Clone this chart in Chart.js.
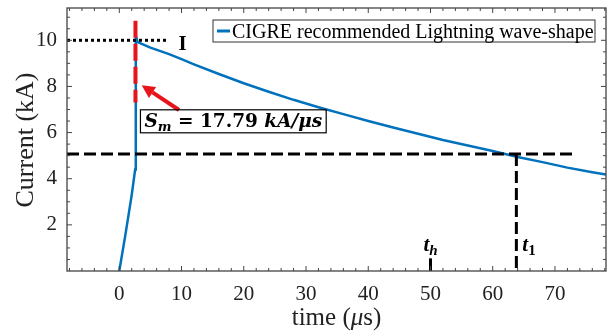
<!DOCTYPE html>
<html>
<head>
<meta charset="utf-8">
<script src="https://cdn.jsdelivr.net/npm/chart.js@4.4.1/dist/chart.umd.min.js"></script>
<style>
  html, body { margin: 0; padding: 0; background: #fff; }
</style>
</head>
<body>
<canvas id="myChart" width="611" height="331"></canvas>
<script>
// waveform
const timeUs = [0, 1.0, 2.0, 2.55, 2.65, 2.95, 5, 8, 10, 12, 16, 20, 24, 28, 32, 36, 40, 44, 48, 52, 56, 60, 64, 68, 72, 76, 78.2];
const currentKA = [0, 1.6, 3.3, 4.4, 10.2, 9.92, 9.68, 9.4, 9.18, 8.96, 8.54, 8.14, 7.77, 7.42, 7.1, 6.8, 6.5, 6.22, 5.95, 5.68, 5.44, 5.2, 4.94, 4.72, 4.48, 4.28, 4.18];

const xTicks = [0, 10, 20, 30, 40, 50, 60, 70];
const yTicks = [2, 4, 6, 8, 10];

// marker values
const peakI = 10.0;      // "I" dotted level
const halfI = 5.07;      // half-peak level
const frontT = 2.6;      // red dashed front line
const t1 = 63.8;
const th = 50;

const serif = "'Liberation Serif', 'Times New Roman', serif";
const mathFont = "'DejaVu Serif', serif";
const axisColor = '#444';

// draw text made of pieces (for subscripts / mixed styles)
let drawParts = (ctx, parts, x, y, align) => {
    let w = 0;
    parts.forEach(p => { ctx.font = p.font; w += ctx.measureText(p.t).width; });
    let cx = align == 'center' ? x - w / 2 : x;
    parts.forEach(p => {
        ctx.font = p.font;
        ctx.fillText(p.t, cx, y + (p.dy || 0));
        cx += ctx.measureText(p.t).width;
    });
    return w;
};

let arrow = (ctx, x0, y0, x1, y1) => {
    let ang = Math.atan2(y1 - y0, x1 - x0);
    let hl = 13, hw = 6.5;
    let bx = x1 - hl * Math.cos(ang), by = y1 - hl * Math.sin(ang);
    ctx.beginPath(); ctx.moveTo(x0, y0); ctx.lineTo(bx, by); ctx.stroke();
    ctx.beginPath();
    ctx.moveTo(x1, y1);
    ctx.lineTo(bx + hw * Math.sin(ang), by - hw * Math.cos(ang));
    ctx.lineTo(bx - hw * Math.sin(ang), by + hw * Math.cos(ang));
    ctx.closePath(); ctx.fill();
};

const overlay = {
    id: 'overlay',
    afterDatasetsDraw(chart) {
        let ctx = chart.ctx, a = chart.chartArea;
        let x = chart.scales.x, y = chart.scales.y;
        ctx.save();
        ctx.beginPath(); ctx.rect(a.left, a.top, a.right - a.left, a.bottom - a.top); ctx.clip();

        // dotted peak level
        ctx.strokeStyle = '#000'; ctx.lineWidth = 3; ctx.setLineDash([3, 3]);
        ctx.beginPath(); ctx.moveTo(a.left, y.getPixelForValue(peakI)); ctx.lineTo(x.getPixelForValue(7.7), y.getPixelForValue(peakI)); ctx.stroke();

        // half level and t1
        ctx.setLineDash([12, 5]);
        ctx.beginPath(); ctx.moveTo(a.left, y.getPixelForValue(halfI)); ctx.lineTo(x.getPixelForValue(73.5), y.getPixelForValue(halfI)); ctx.stroke();
        ctx.beginPath(); ctx.moveTo(x.getPixelForValue(t1), y.getPixelForValue(halfI)); ctx.lineTo(x.getPixelForValue(t1), y.getPixelForValue(0)); ctx.stroke();

        // th mark
        ctx.setLineDash([]);
        ctx.beginPath(); ctx.moveTo(x.getPixelForValue(th), y.getPixelForValue(0)); ctx.lineTo(x.getPixelForValue(th), y.getPixelForValue(0.55)); ctx.stroke();

        // red dashed front
        ctx.strokeStyle = '#e8141b'; ctx.lineWidth = 4; ctx.setLineDash([17, 6]);
        ctx.beginPath(); ctx.moveTo(x.getPixelForValue(frontT), y.getPixelForValue(10.85)); ctx.lineTo(x.getPixelForValue(frontT), y.getPixelForValue(7.3)); ctx.stroke();

        // red arrow
        ctx.setLineDash([]); ctx.fillStyle = '#e8141b'; ctx.lineWidth = 4;
        arrow(ctx, x.getPixelForValue(9.6), y.getPixelForValue(6.98), x.getPixelForValue(3.6), y.getPixelForValue(8.05));

        // labels
        ctx.fillStyle = '#000'; ctx.textBaseline = 'alphabetic';
        ctx.font = 'bold 21px ' + serif;
        ctx.fillText('I', x.getPixelForValue(9.5), y.getPixelForValue(9.6));

        let bi = 'bold italic 21px ' + serif, sub = 'bold italic 15px ' + serif;
        drawParts(ctx, [{t: 't', font: bi}, {t: 'h', font: sub, dy: 4}], x.getPixelForValue(th), y.getPixelForValue(0.85), 'center');
        drawParts(ctx, [{t: 't', font: bi}, {t: '1', font: 'bold 15px ' + serif, dy: 4}], x.getPixelForValue(t1) + 6, y.getPixelForValue(0.85), 'left');

        // slope box
        let mbi = 'bold italic 18.5px ' + mathFont;
        let bx = x.getPixelForValue(3.4), by = y.getPixelForValue(6.25);
        let w = drawParts(ctx, [
            {t: 'S', font: mbi}, {t: 'm', font: 'bold italic 13px ' + mathFont, dy: 4},
            {t: ' = 17.79 ', font: 'bold 18.5px ' + mathFont},
            {t: 'kA/μs', font: mbi}
        ], bx + 4, by, 'left');
        ctx.strokeStyle = '#000'; ctx.lineWidth = 1.2;
        ctx.strokeRect(bx, by - 17, w + 8, 23);
        ctx.restore();
    },
    afterDraw(chart) {
        let ctx = chart.ctx, a = chart.chartArea;
        let x = chart.scales.x, y = chart.scales.y;
        ctx.save();
        ctx.strokeStyle = axisColor; ctx.lineWidth = 1.3;
        ctx.strokeRect(a.left, a.top, a.right - a.left, a.bottom - a.top);

        // inward ticks on all sides
        ctx.lineWidth = 1;
        ctx.beginPath();
        for (let v = -8; v <= 78; v += 2) {
            let px = x.getPixelForValue(v), len = v % 10 == 0 ? 5 : 3;
            ctx.moveTo(px, a.bottom); ctx.lineTo(px, a.bottom - len);
            ctx.moveTo(px, a.top); ctx.lineTo(px, a.top + len);
        }
        for (let v = 0.5; v <= 11; v += 0.5) {
            let py = y.getPixelForValue(v), len = v % 2 == 0 ? 5 : 3;
            ctx.moveTo(a.left, py); ctx.lineTo(a.left + len, py);
            ctx.moveTo(a.right, py); ctx.lineTo(a.right - len, py);
        }
        ctx.stroke();

        // axis titles
        ctx.fillStyle = '#222'; ctx.textBaseline = 'middle';
        drawParts(ctx, [
            {t: 'time (', font: '25px ' + serif},
            {t: 'μ', font: 'italic 25px ' + serif},
            {t: 's)', font: '25px ' + serif}
        ], (a.left + a.right) / 2, 318, 'center');
        ctx.save();
        ctx.translate(26, 140); ctx.rotate(-Math.PI / 2);
        ctx.textAlign = 'center'; ctx.font = '26px ' + serif;
        ctx.fillText('Current (kA)', 0, 0);
        ctx.restore();

        // legend
        let ds = chart.data.datasets[0];
        let lx = 213, ly = 20, lw = 382, lh = 22;
        ctx.fillStyle = '#fff'; ctx.fillRect(lx, ly, lw, lh);
        ctx.strokeStyle = '#333'; ctx.lineWidth = 1;
        ctx.strokeRect(lx, ly, lw, lh);
        ctx.strokeStyle = ds.borderColor; ctx.lineWidth = 3;
        ctx.beginPath(); ctx.moveTo(lx + 4, ly + lh / 2); ctx.lineTo(lx + 17, ly + lh / 2); ctx.stroke();
        ctx.fillStyle = '#000'; ctx.textBaseline = 'alphabetic'; ctx.font = '20px ' + serif;
        ctx.fillText(ds.label, lx + 19, ly + 18);
        ctx.restore();
    }
};

let noPad = s => { s.paddingTop = 0; s.paddingBottom = 0; s.paddingLeft = 0; s.paddingRight = 0; };

let ctx = document.getElementById('myChart').getContext('2d');

let myChart = new Chart(ctx, {
    type: 'scatter',
    data: {
        datasets: [{
            label: 'CIGRE recommended Lightning wave-shape',
            data: timeUs.map((t, i) => ({x: t, y: currentKA[i]})),
            showLine: true,
            borderColor: '#0072BD',
            borderWidth: 2.5,
            pointRadius: 0,
            tension: 0
        }]
    },
    options: {
        responsive: false,
        animation: false,
        devicePixelRatio: 1,
        layout: { padding: { top: 8, right: 5, left: 0, bottom: 0 } },
        plugins: { legend: { display: false }, tooltip: { enabled: false } },
        scales: {
            x: {
                type: 'linear', min: -8.4, max: 78.2,
                afterBuildTicks: s => { s.ticks = xTicks.map(v => ({value: v})); },
                afterFit: s => { s.height = 60; noPad(s); },
                grid: { display: false, drawTicks: false },
                border: { display: false },
                ticks: { padding: 11, color: '#222', font: { family: serif, size: 21 } }
            },
            y: {
                min: 0, max: 11.4,
                afterBuildTicks: s => { s.ticks = yTicks.map(v => ({value: v})); },
                afterFit: s => { s.width = 67; noPad(s); },
                grid: { display: false, drawTicks: false },
                border: { display: false },
                ticks: { padding: 10, color: '#222', font: { family: serif, size: 21 } }
            }
        }
    },
    plugins: [overlay]
});
</script>
</body>
</html>
